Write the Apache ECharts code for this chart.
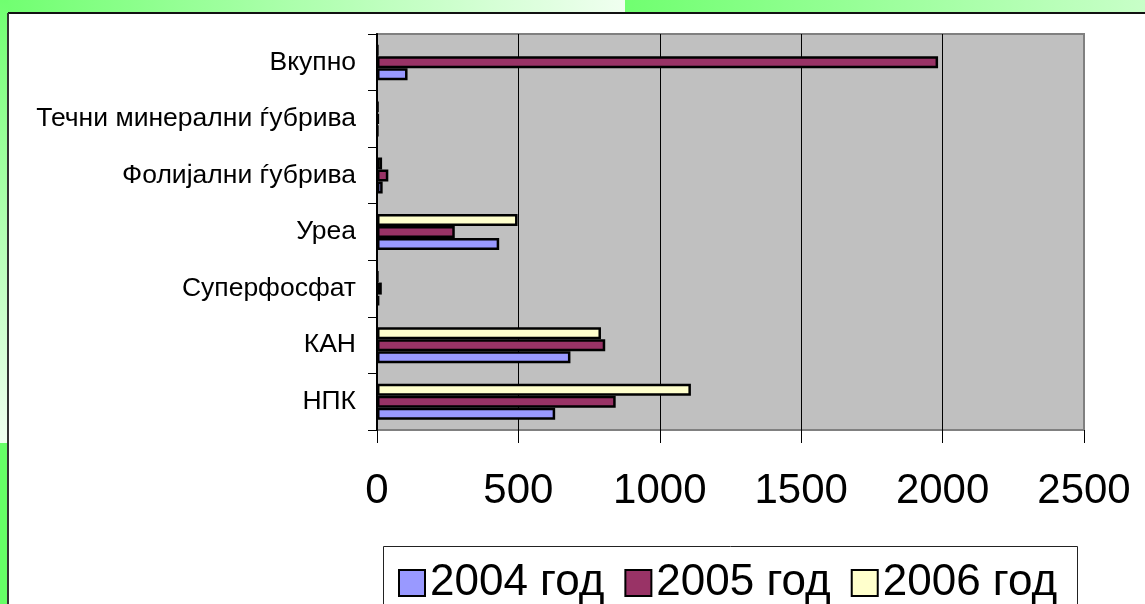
<!DOCTYPE html>
<html><head><meta charset="utf-8">
<script src="https://cdn.jsdelivr.net/npm/echarts@6/dist/echarts.min.js"></script>
<style>html,body{margin:0;padding:0;background:#fff}#c{width:1145px;height:604px}</style>
</head><body><div id="c"></div>
<script>
var categories = ["НПК", "КАН", "Суперфосфат", "Уреа", "Фолијални ѓубрива", "Течни минерални ѓубрива", "Вкупно"];
var seriesNames = ["2004 год", "2005 год", "2006 год"];
var values2004 = [630, 684, 8, 432, 20, 3, 108];
var values2005 = [844, 807, 17, 275, 40, 6, 1984];
var values2006 = [1110, 792, 3, 497, 18, 4, 3];
var xTicks = [0, 500, 1000, 1500, 2000, 2500];
var colors = ["#9999ff", "#993366", "#ffffcc"];

var chart = echarts.init(document.getElementById('c'));
var FONT = '"Liberation Sans", Arial, sans-serif';
var data = [values2004, values2005, values2006];
var series = [];
for (var i = seriesNames.length - 1; i >= 0; i--) {
  series.push({
    name: seriesNames[i], type: 'bar', data: data[i], barWidth: 12, barGap: '0%',
    itemStyle: {color: colors[i], borderColor: '#000', borderWidth: 2.5}
  });
}
chart.setOption({
  animation: false,
  backgroundColor: '#ffffff',
  graphic: [
    {type:'rect', z:-10, shape:{x:0,y:0,width:625,height:13}, style:{fill:new echarts.graphic.LinearGradient(0,0,1,0,[{offset:0,color:'#70ff70'},{offset:1,color:'#f0fff0'}])}},
    {type:'rect', z:-10, shape:{x:625,y:0,width:520,height:13}, style:{fill:new echarts.graphic.LinearGradient(0,0,1,0,[{offset:0,color:'#70ff70'},{offset:1,color:'#c8ffc8'}])}},
    {type:'rect', z:-10, shape:{x:0,y:0,width:8,height:443}, style:{fill:new echarts.graphic.LinearGradient(0,0,0,1,[{offset:0,color:'#70ff70'},{offset:1,color:'#f0fff0'}])}},
    {type:'rect', z:-10, shape:{x:0,y:443,width:8,height:161}, style:{fill:'#66ff66'}},
    {type:'line', z:-9, shape:{x1:8,y1:13,x2:1145,y2:13}, style:{stroke:'#111',lineWidth:2}},
    {type:'line', z:-9, shape:{x1:8,y1:13,x2:8,y2:604}, style:{stroke:'#333',lineWidth:2}},
    {type:'rect', z:-9, shape:{x:383.5,y:546.5,width:694,height:80}, style:{fill:'#fff',stroke:'#222',lineWidth:1}}
  ],
  legend: {
    data: seriesNames.map(function(n){ return {name: n, icon: 'rect'}; }),
    left: 393, top: 556,
    itemWidth: 26, itemHeight: 26, itemGap: 20,
    textStyle: {fontSize: 44, fontFamily: FONT, color: '#000'},
    itemStyle: {borderColor:'#000', borderWidth:2}
  },
  grid: {
    left: 377, top: 34, right: 61, bottom: 174, containLabel: false,
    show: true, backgroundColor: '#c0c0c0', borderColor: '#808080', borderWidth: 2
  },
  xAxis: {
    type: 'value', min: 0, max: 2500, interval: 500,
    axisLine: {show: false},
    axisTick: {show: true, length: 13, lineStyle:{color:'#000'}},
    axisLabel: {fontSize: 42, fontFamily: FONT, color: '#000', margin: 40,
      formatter: function(v){ return xTicks.indexOf(v) >= 0 ? String(v) : ''; }},
    splitLine: {show: true, showMinLine: false, showMaxLine: false, lineStyle: {color: '#000', width: 1}}
  },
  yAxis: {
    type: 'category', data: categories,
    axisLine: {show: true, lineStyle: {color: '#000', width: 2}},
    axisTick: {show: true, length: 9, lineStyle: {color: '#000'}},
    axisLabel: {fontSize: 26.5, fontFamily: FONT, color: '#000', margin: 21}
  },
  series: series
});
</script></body></html>
